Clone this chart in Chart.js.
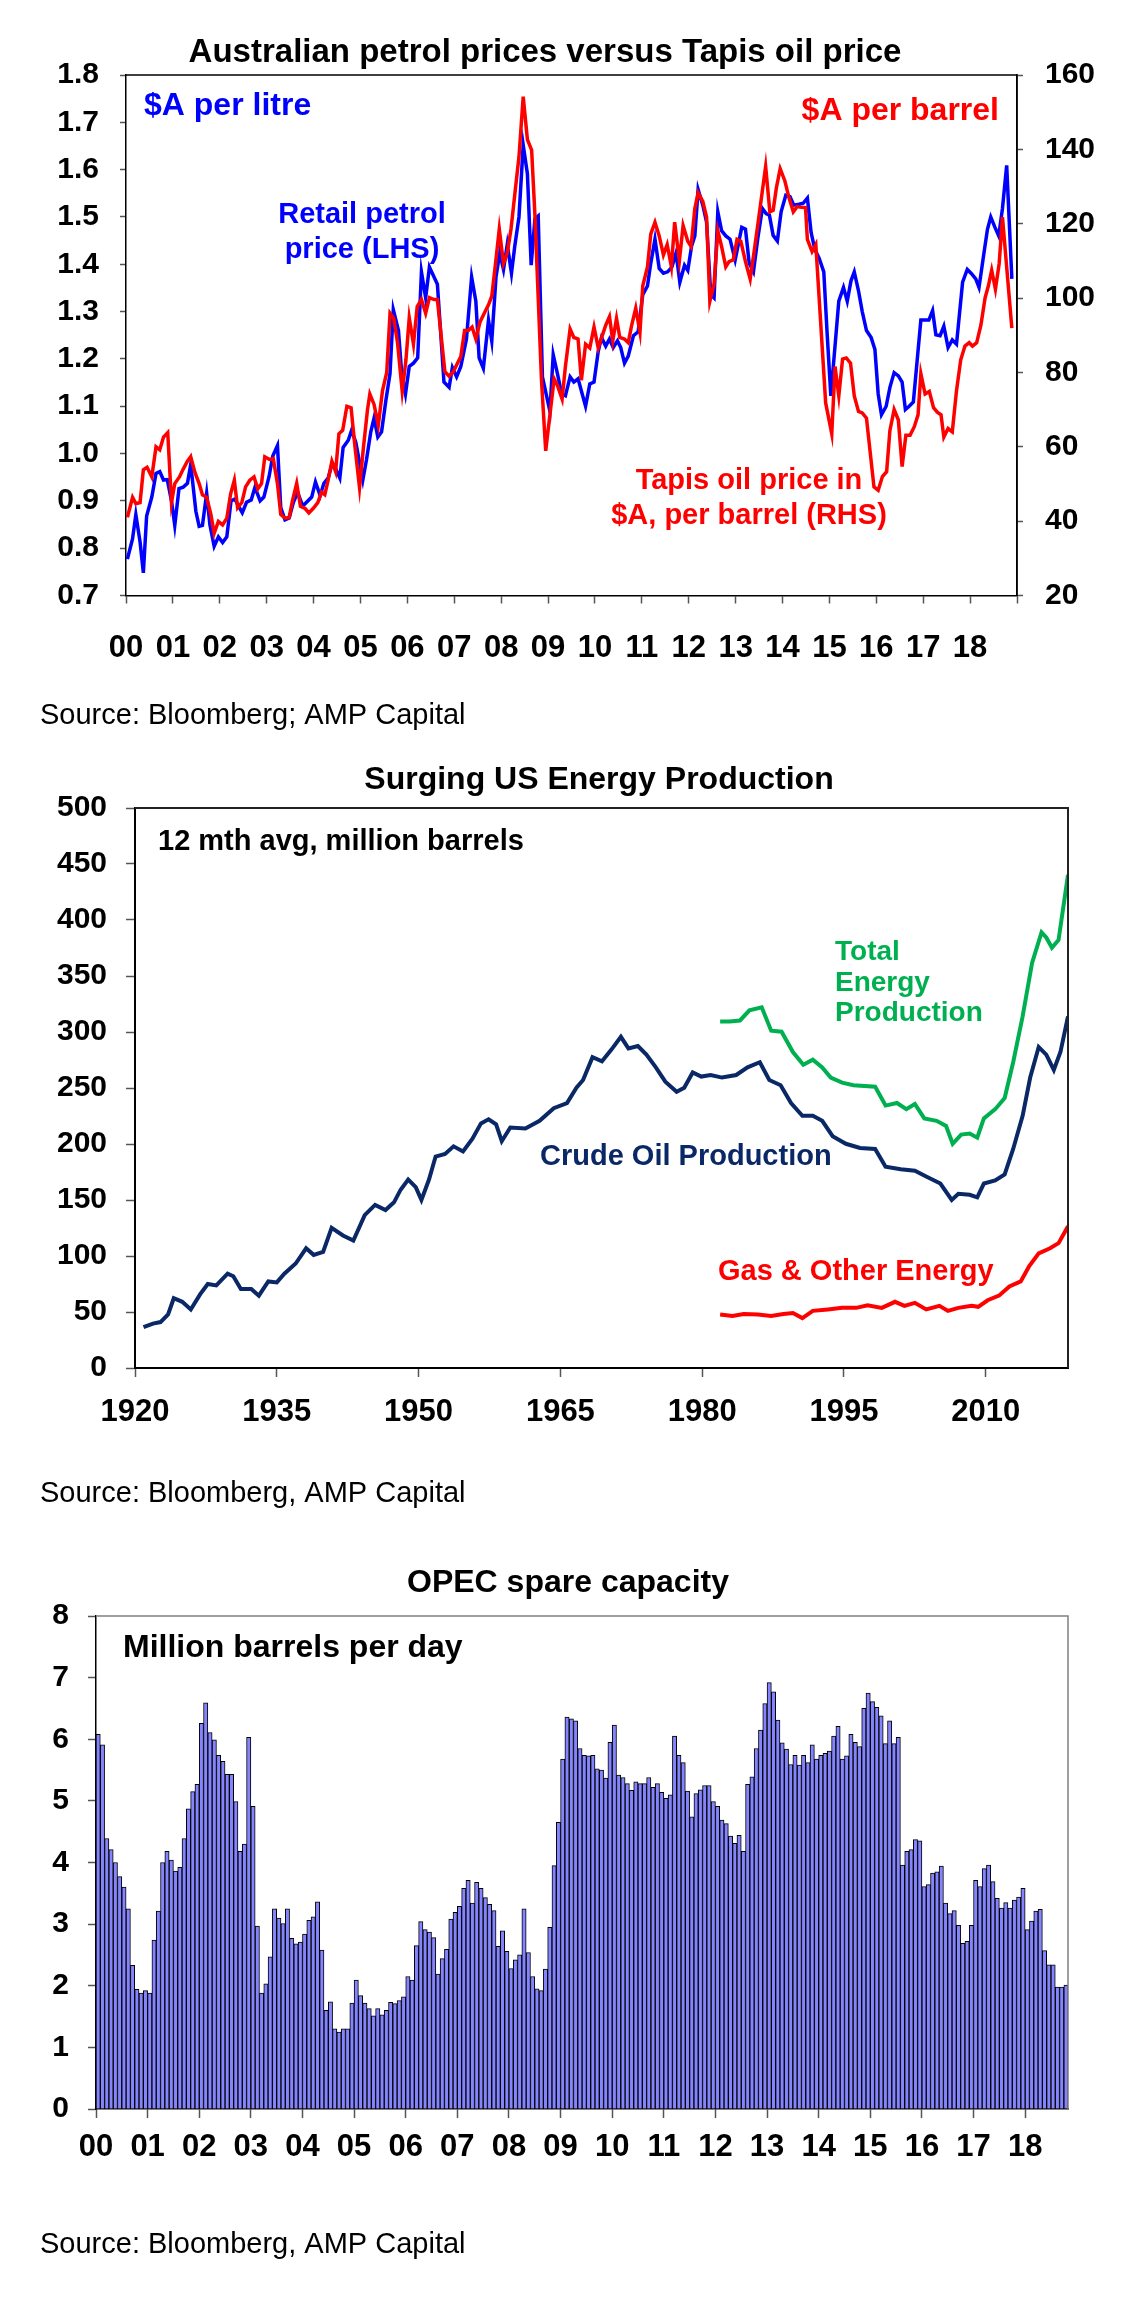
<!DOCTYPE html>
<html>
<head>
<meta charset="utf-8">
<script src="https://cdn.jsdelivr.net/npm/chart.js@4.4.1/dist/chart.umd.min.js"></script>
<style>
  html, body { margin: 0; padding: 0; background: #fff; }
  canvas { display: block; }
</style>
</head>
<body>
<canvas id="petrolCanvas" width="1144" height="740"></canvas>
<canvas id="energyCanvas" width="1144" height="800"></canvas>
<canvas id="opecCanvas" width="1144" height="782"></canvas>
<script>
// tick labels shared by the two monthly charts
const yearLabels = ['00','01','02','03','04','05','06','07','08','09','10','11','12','13','14','15','16','17','18'];

// retail petrol price, $A per litre (LHS)
const petrolYear = [2000.03,2000.14,2000.21,2000.30,2000.37,2000.44,2000.55,2000.64,2000.72,2000.80,2000.88,2000.97,
  2001.04,2001.13,2001.22,2001.31,2001.38,2001.49,2001.56,2001.63,2001.72,2001.79,2001.88,2001.97,
  2002.06,2002.15,2002.24,2002.32,2002.40,2002.48,2002.57,2002.67,2002.75,2002.86,2002.94,
  2003.05,2003.13,2003.23,2003.30,2003.39,2003.48,2003.57,2003.66,2003.77,2003.85,2003.96,
  2004.04,2004.14,2004.22,2004.31,2004.40,2004.48,2004.56,2004.63,2004.74,2004.81,2004.90,
  2005.05,2005.13,2005.22,2005.29,2005.37,2005.45,2005.54,2005.63,2005.70,2005.81,2005.88,2005.96,
  2006.04,2006.13,2006.22,2006.30,2006.39,2006.47,2006.64,2006.71,2006.78,2006.89,2006.96,
  2007.05,2007.14,2007.26,2007.37,2007.46,2007.53,2007.62,2007.73,2007.80,2007.89,2007.97,
  2008.05,2008.13,2008.22,2008.29,2008.38,2008.47,2008.56,2008.64,2008.72,2008.79,2008.88,
  2009.04,2009.11,2009.20,2009.29,2009.37,2009.47,2009.55,2009.64,2009.80,2009.89,2009.98,
  2010.07,2010.14,2010.23,2010.31,2010.39,2010.48,2010.55,2010.63,2010.71,2010.82,2010.92,
  2011.02,2011.12,2011.19,2011.28,2011.37,2011.46,2011.55,2011.64,2011.73,2011.81,2011.91,2011.98,
  2012.06,2012.13,2012.20,2012.30,2012.38,2012.47,2012.54,2012.62,2012.70,2012.79,2012.88,2012.99,
  2013.13,2013.21,2013.29,2013.38,2013.47,2013.57,2013.65,2013.72,2013.80,2013.89,2013.97,
  2014.07,2014.16,2014.24,2014.35,2014.44,2014.53,2014.61,2014.69,2014.78,2014.88,2014.95,
  2015.03,2015.20,2015.30,2015.38,2015.46,2015.53,2015.62,2015.70,2015.79,2015.89,2015.97,
  2016.04,2016.11,2016.21,2016.29,2016.38,2016.47,2016.55,2016.62,2016.70,2016.79,2016.95,
  2017.04,2017.12,2017.20,2017.27,2017.36,2017.44,2017.53,2017.62,2017.71,2017.84,2017.94,
  2018.03,2018.12,2018.19,2018.28,2018.37,2018.44,2018.53,2018.61,2018.69,2018.78,2018.89];
const petrolPrice = [0.777,0.820,0.871,0.813,0.748,0.868,0.908,0.958,0.962,0.944,0.945,0.900,
  0.848,0.926,0.929,0.937,0.977,0.878,0.846,0.848,0.916,0.849,0.804,0.824,
  0.812,0.824,0.900,0.904,0.889,0.875,0.897,0.902,0.929,0.900,0.908,
  0.951,0.995,1.017,0.886,0.860,0.864,0.897,0.918,0.889,0.897,0.908,
  0.940,0.911,0.937,0.948,0.980,0.966,0.948,1.013,1.028,1.049,1.024,
  0.944,0.988,1.046,1.075,1.035,1.046,1.111,1.169,1.304,1.260,1.169,1.126,
  1.184,1.191,1.202,1.384,1.329,1.394,1.358,1.256,1.151,1.140,1.182,
  1.162,1.184,1.242,1.373,1.322,1.202,1.180,1.282,1.238,1.373,1.424,
  1.389,1.442,1.381,1.438,1.500,1.652,1.591,1.398,1.496,1.502,1.162,
  1.089,1.209,1.169,1.126,1.122,1.162,1.151,1.158,1.100,1.147,1.151,
  1.216,1.245,1.227,1.242,1.224,1.238,1.224,1.191,1.206,1.249,1.257,
  1.336,1.354,1.402,1.453,1.391,1.381,1.384,1.394,1.424,1.362,1.398,1.387,
  1.438,1.460,1.558,1.525,1.489,1.336,1.329,1.511,1.471,1.460,1.453,1.409,
  1.478,1.474,1.402,1.384,1.453,1.518,1.507,1.504,1.461,1.449,1.511,
  1.546,1.543,1.525,1.527,1.529,1.540,1.467,1.431,1.413,1.384,1.256,
  1.122,1.322,1.351,1.322,1.365,1.384,1.344,1.300,1.260,1.245,1.220,
  1.126,1.082,1.100,1.140,1.171,1.164,1.151,1.093,1.100,1.109,1.282,
  1.282,1.282,1.302,1.251,1.249,1.269,1.224,1.240,1.231,1.362,1.389,
  1.380,1.369,1.351,1.413,1.474,1.500,1.478,1.460,1.518,1.609,1.369];

// Tapis oil price, $A per barrel (RHS)
const tapisYear = [2000.03,2000.14,2000.21,2000.30,2000.37,2000.45,2000.55,2000.64,2000.72,2000.80,2000.89,2000.97,
  2001.04,2001.14,2001.22,2001.31,2001.38,2001.47,2001.56,2001.63,2001.72,2001.81,2001.88,2001.97,
  2002.06,2002.15,2002.23,2002.31,2002.38,2002.47,2002.55,2002.64,2002.73,2002.81,2002.89,2002.96,
  2003.06,2003.14,2003.23,2003.30,2003.39,2003.48,2003.55,2003.64,2003.72,2003.82,2003.90,2003.99,
  2004.09,2004.17,2004.24,2004.31,2004.39,2004.47,2004.54,2004.62,2004.71,2004.80,2004.88,2004.98,
  2005.06,2005.15,2005.20,2005.29,2005.38,2005.47,2005.56,2005.63,2005.71,2005.79,2005.89,2005.97,
  2006.04,2006.13,2006.21,2006.30,2006.39,2006.47,2006.57,2006.64,2006.80,2006.89,2006.98,
  2007.05,2007.14,2007.22,2007.30,2007.38,2007.46,2007.55,2007.64,2007.73,2007.80,2007.88,2007.96,
  2008.05,2008.13,2008.21,2008.29,2008.38,2008.47,2008.56,2008.65,2008.72,2008.86,2008.95,
  2009.04,2009.13,2009.20,2009.30,2009.37,2009.47,2009.55,2009.64,2009.71,2009.80,2009.89,2009.98,
  2010.07,2010.23,2010.31,2010.38,2010.46,2010.53,2010.63,2010.71,2010.78,2010.87,2010.96,
  2011.02,2011.12,2011.19,2011.28,2011.37,2011.46,2011.54,2011.63,2011.70,2011.80,2011.88,2011.98,
  2012.05,2012.13,2012.20,2012.30,2012.38,2012.45,2012.54,2012.62,2012.70,2012.79,2012.86,2012.95,
  2013.03,2013.11,2013.21,2013.31,2013.39,2013.48,2013.64,2013.73,2013.80,2013.87,2013.95,
  2014.05,2014.14,2014.23,2014.31,2014.40,2014.49,2014.53,2014.63,2014.71,2014.92,
  2015.05,2015.12,2015.20,2015.28,2015.36,2015.45,2015.53,2015.62,2015.70,2015.79,2015.95,
  2016.04,2016.13,2016.22,2016.29,2016.38,2016.47,2016.55,2016.63,2016.72,2016.81,2016.89,2016.95,
  2017.04,2017.13,2017.22,2017.30,2017.38,2017.44,2017.53,2017.62,2017.71,2017.80,2017.89,2017.98,
  2018.05,2018.14,2018.23,2018.32,2018.39,2018.46,2018.54,2018.62,2018.69,2018.89];
const tapisPrice = [41.0,46.4,44.7,45.0,53.8,54.5,51.9,60.0,59.2,62.6,63.8,45.0,
  50.1,51.9,54.0,56.1,57.3,53.1,50.1,47.1,46.4,41.8,36.7,39.9,
  39.0,40.8,47.3,51.0,43.6,45.0,49.2,51.0,51.9,48.7,50.1,57.3,
  56.6,56.8,50.1,41.8,40.8,41.0,45.5,50.2,44.0,43.4,42.2,43.4,
  45.0,47.8,47.1,51.0,56.1,53.3,63.5,64.4,70.9,70.5,60.3,49.0,
  59.4,70.0,74.2,71.4,65.8,75.1,80.0,95.9,94.5,88.0,74.9,83.4,
  94.7,87.6,97.7,99.6,95.9,100.1,99.6,99.6,80.2,79.0,80.2,
  82.0,84.3,91.3,91.3,92.2,89.0,93.6,95.9,98.2,100.5,109.3,118.6,
  109.3,112.1,118.6,127.8,138.0,154.2,142.6,139.8,122.3,77.9,58.9,
  68.6,78.3,76.5,72.8,81.6,91.7,89.4,89.0,77.9,87.6,86.6,92.2,
  86.6,92.7,95.0,88.5,94.5,89.4,89.0,88.0,92.5,97.3,90.8,
  103.3,108.4,117.2,120.4,116.7,111.6,114.4,108.4,120.4,110.0,119.5,115.3,
  113.9,124.1,128.3,126.0,121.8,99.1,103.8,118.1,113.9,108.4,109.8,110.3,
  115.8,115.3,109.8,105.1,112.1,120.4,135.4,123.2,123.6,129.7,134.8,
  131.5,126.9,123.2,124.6,124.4,124.3,115.8,112.5,114.4,71.8,
  63.5,81.6,73.7,83.6,83.9,82.5,73.7,69.5,69.1,67.7,49.2,
  48.3,52.0,53.3,64.4,70.0,67.2,54.7,63.1,63.1,65.4,68.6,79.7,
  74.2,74.9,70.5,69.3,68.6,62.6,64.9,64.0,75.1,83.4,87.1,88.0,
  87.1,88.0,92.7,100.1,103.3,107.5,102.4,109.3,121.8,91.9];

// US production, 12 mth avg, million barrels
const crudeYear = [1920.9,1921.9,1922.7,1923.5,1924.1,1925.0,1925.9,1926.9,1927.7,1928.6,1929.8,1930.4,1931.2,1932.3,1933.1,
  1934.1,1935.0,1935.8,1937.0,1938.1,1938.9,1939.9,1940.8,1942.0,1943.1,1944.3,1945.4,1946.5,1947.4,1948.1,
  1948.9,1949.7,1950.3,1951.1,1951.8,1952.8,1953.7,1954.7,1955.7,1956.6,1957.4,1958.2,1958.8,1959.7,1961.3,
  1962.8,1964.3,1965.7,1966.7,1967.4,1968.4,1969.4,1970.4,1971.4,1972.2,1973.2,1974.1,1975.1,1976.1,1977.3,
  1978.1,1979.0,1979.9,1980.9,1982.1,1983.6,1984.8,1986.1,1987.1,1988.3,1989.4,1990.6,1991.7,1992.7,1993.8,
  1995.2,1996.7,1998.3,1999.4,2001.0,2002.5,2003.8,2005.2,2006.4,2007.1,2008.3,2009.1,2009.8,2011.0,2012.0,
  2012.9,2013.9,2014.7,2015.6,2016.4,2017.2,2017.9,2018.7];
const crudeOutput = [36.4,39.6,41,47.8,62.3,59.1,52.3,66,75,73.7,84.2,81.9,70.5,70.5,64.6,
  77.3,76.4,84.2,93.3,106.9,101,103.7,125.1,118.3,113.7,136.5,145.6,141,147.9,159.2,
  168.3,161.5,150.1,168.3,188.8,191.1,197.9,193.4,204.7,218.4,222,217.5,202.5,214.7,213.8,
  220.7,232,236.6,250.2,257.1,277.5,273.9,284.3,295.7,285.3,287.5,279.8,268.4,255.7,246.6,
  250.2,263.9,260.2,261.6,259.3,261.6,268.4,273,257.1,252.5,236.6,225.2,225.2,220.7,207,
  200.2,196.5,195.6,179.7,177.4,176.1,170.6,164.7,150.1,155.6,154.7,152.4,164.7,167.4,172.9,
  195.6,225.2,259.3,286.6,279.8,266.2,282.1,313.9];
const totalYear = [1981.9,1982.9,1984.0,1985.0,1986.3,1987.3,1988.4,1989.6,1990.7,1991.7,1992.7,1993.6,1994.8,1996.0,1998.3,
  1999.4,2000.6,2001.6,2002.5,2003.5,2004.8,2005.8,2006.5,2007.4,2008.3,2009.1,2009.8,2011.0,2012.0,2012.9,
  2013.9,2014.9,2015.9,2016.4,2017.0,2017.7,2018.7];
const totalOutput = [309.4,309.4,310.3,319.4,322.1,301.2,300.3,282.1,270.7,275.3,268.4,259.3,254.8,252.5,251.1,
  234.3,236.6,231.1,235.7,222.9,220.7,216.1,200.2,208.4,209.3,205.6,222.9,231.1,241.1,273,
  313.9,361.7,389,384.4,375.3,382.2,440.4];
const gasYear = [1981.9,1983.2,1984.4,1985.9,1987.3,1988.6,1989.6,1990.6,1991.7,1993.3,1994.8,1996.3,1997.5,1999.0,2000.4,
  2001.4,2002.5,2003.7,2005.1,2006.0,2007.1,2008.5,2009.2,2010.2,2011.4,2012.5,2013.7,2014.6,2015.6,2016.8,
  2017.7,2018.7];
const gasOutput = [47.8,46.4,48.2,47.8,46.4,48.2,49.1,44.6,51,52.3,53.7,53.7,56,53.7,59.1,
  55.5,58.2,52.3,55.5,51,53.7,55.5,54.6,60.5,64.6,72.8,77.3,91,102.4,106.9,
  111.5,126.5];
const energyTicks = [1920, 1935, 1950, 1965, 1980, 1995, 2010];

// OPEC spare capacity, million barrels per day, monthly from Jan 2000
const spareStart = 2000;
const spareCapacity = [
  6.08,5.91,4.39,4.21,4.00,3.77,3.60,3.25,2.33,1.94,1.88,1.92,
  1.88,2.74,3.21,4.00,4.18,4.04,3.86,3.92,4.39,4.87,5.15,5.27,
  6.26,6.59,6.11,5.99,5.74,5.64,5.43,5.43,4.99,4.18,4.30,6.03,
  4.91,2.97,1.88,2.03,2.47,3.25,3.10,3.01,3.25,2.77,2.68,2.71,
  2.84,3.06,3.12,3.36,2.58,1.60,1.74,1.30,1.25,1.30,1.30,1.72,
  2.09,1.84,1.72,1.63,1.51,1.63,1.53,1.60,1.73,1.71,1.76,1.82,
  2.15,2.09,2.65,3.04,2.91,2.87,2.78,2.19,2.44,2.59,3.08,3.19,
  3.29,3.58,3.71,3.34,3.68,3.58,3.43,3.32,3.22,2.64,2.89,2.56,
  2.28,2.42,2.50,3.25,2.54,2.15,1.95,1.92,2.27,2.95,3.95,4.65,
  5.68,6.36,6.33,6.30,5.85,5.74,5.73,5.74,5.52,5.50,5.37,5.95,
  6.23,5.42,5.38,5.28,5.17,5.31,5.28,5.28,5.38,5.22,5.28,5.14,
  5.04,5.10,6.05,5.74,5.62,5.16,4.74,5.12,5.18,5.25,5.25,4.99,
  4.91,4.69,4.63,4.43,4.31,4.44,4.18,5.27,5.39,5.85,6.15,6.58,
  6.92,6.77,6.31,5.94,5.84,5.59,5.74,5.58,5.74,5.62,5.91,5.68,
  5.74,5.77,5.81,6.05,6.21,5.68,5.73,6.08,5.95,5.88,6.50,6.75,
  6.61,6.52,6.38,5.93,6.30,5.93,6.03,3.96,4.18,4.21,4.37,4.35,
  3.61,3.64,3.83,3.85,3.94,3.34,3.17,3.22,2.98,2.69,2.72,2.98,
  3.71,3.61,3.90,3.96,3.69,3.42,3.26,3.35,3.26,3.39,3.44,3.58,
  2.91,3.05,3.21,3.24,2.57,2.34,2.34,1.98,1.98,2.01];

const FONT = '"Liberation Sans", Arial, Helvetica, sans-serif';
Chart.defaults.font.family = FONT;
Chart.defaults.color = '#000';
Chart.defaults.animation = false;

function toPoints(xs, ys) {
    return xs.map((x, i) => ({x: x, y: ys[i]}));
}

function yearTicks(scale) {
    scale.ticks = yearLabels.map((l, i) => ({value: 2000 + i}));
}

// free text (titles, notes, source) drawn onto the canvas
function textPlugin(items) {
    return {
        id: 'texts',
        afterDraw(chart) {
            const ctx = chart.ctx;
            items.forEach(t => {
                ctx.save();
                ctx.font = (t.weight || 'bold') + ' ' + t.size + 'px ' + FONT;
                ctx.fillStyle = t.color || '#000';
                ctx.textAlign = t.align || 'left';
                ctx.textBaseline = 'alphabetic';
                ctx.fillText(t.text, t.x, t.y + t.size * 0.36);
                ctx.restore();
            });
        }
    };
}

// top and right edge of the plot box
function boxPlugin(color, width) {
    return {
        id: 'box',
        afterDatasetsDraw(chart) {
            const a = chart.chartArea;
            const ctx = chart.ctx;
            ctx.save();
            ctx.strokeStyle = color;
            ctx.lineWidth = width;
            ctx.beginPath();
            ctx.moveTo(a.left, a.top);
            ctx.lineTo(a.right, a.top);
            ctx.lineTo(a.right, a.bottom);
            ctx.stroke();
            ctx.restore();
        }
    };
}

function axisGrid(len) {
    return {drawOnChartArea: false, drawTicks: true, tickLength: len, tickColor: '#555', tickWidth: 1.5, offset: false};
}

// ---------- chart 1: petrol vs Tapis ----------
new Chart(document.getElementById('petrolCanvas'), {
    type: 'line',
    data: {
        datasets: [{
                label: 'Retail petrol price (LHS)',
                data: toPoints(petrolYear, petrolPrice),
                yAxisID: 'y',
                borderColor: '#0000ff',
                borderWidth: 3.5,
                pointRadius: 0,
                order: 2
            }, {
                label: 'Tapis oil price in $A, per barrel (RHS)',
                data: toPoints(tapisYear, tapisPrice),
                yAxisID: 'y2',
                borderColor: '#ff0000',
                borderWidth: 3.5,
                pointRadius: 0,
                order: 1
            }]
    },
    options: {
        responsive: false,
        devicePixelRatio: 1,
        layout: {padding: {top: 75, left: 0, right: 0, bottom: 0}},
        plugins: {legend: {display: false}, tooltip: {enabled: false}},
        scales: {
            x: {
                type: 'linear', min: 2000, max: 2019,
                afterBuildTicks: s => { s.ticks = yearLabels.map((l, i) => ({value: 2000 + i})).concat([{value: 2019}]); },
                ticks: {autoSkip: false, maxRotation: 0, padding: 26,
                    font: {size: 31, weight: 'bold'},
                    callback: v => yearLabels[v - 2000] || ''},
                grid: axisGrid(8),
                border: {color: '#000', width: 1.5},
                afterFit: s => { s.height = 740 - 595.5; }
            },
            y: {
                position: 'left', min: 0.7, max: 1.8,
                ticks: {stepSize: 0.1, padding: 21, font: {size: 30, weight: 'bold'},
                    callback: v => Number(v).toFixed(1)},
                grid: axisGrid(6),
                border: {color: '#000', width: 1.5},
                afterFit: s => { s.width = 126; }
            },
            y2: {
                position: 'right', min: 20, max: 160,
                ticks: {stepSize: 20, padding: 22, font: {size: 30, weight: 'bold'}},
                grid: axisGrid(6),
                border: {color: '#000', width: 1.5},
                afterFit: s => { s.width = 1144 - 1017; }
            }
        }
    },
    plugins: [boxPlugin('#000', 1.5), textPlugin([
        {text: 'Australian petrol prices versus Tapis oil price', x: 545, y: 50, size: 33, align: 'center'},
        {text: '$A per litre', x: 144, y: 103, size: 32, color: '#0000ff'},
        {text: '$A per barrel', x: 999, y: 108.5, size: 32, color: '#ff0000', align: 'right'},
        {text: 'Retail petrol', x: 362, y: 213, size: 29, color: '#0000ff', align: 'center'},
        {text: 'price (LHS)', x: 362, y: 248, size: 29, color: '#0000ff', align: 'center'},
        {text: 'Tapis oil price in', x: 749, y: 479, size: 29, color: '#ff0000', align: 'center'},
        {text: '$A, per barrel (RHS)', x: 749, y: 514, size: 29, color: '#ff0000', align: 'center'},
        {text: 'Source: Bloomberg; AMP Capital', x: 40, y: 714, size: 29, weight: 'normal'}
    ])]
});

// ---------- chart 2: US energy production ----------
new Chart(document.getElementById('energyCanvas'), {
    type: 'line',
    data: {
        datasets: [{
                label: 'Total Energy Production',
                data: toPoints(totalYear, totalOutput),
                borderColor: '#00b050',
                borderWidth: 4,
                pointRadius: 0
            }, {
                label: 'Crude Oil Production',
                data: toPoints(crudeYear, crudeOutput),
                borderColor: '#0a2866',
                borderWidth: 4,
                pointRadius: 0
            }, {
                label: 'Gas & Other Energy',
                data: toPoints(gasYear, gasOutput),
                borderColor: '#ff0000',
                borderWidth: 4,
                pointRadius: 0
            }]
    },
    options: {
        responsive: false,
        devicePixelRatio: 1,
        layout: {padding: {top: 68, left: 0, right: 1144 - 1068, bottom: 0}},
        plugins: {legend: {display: false}, tooltip: {enabled: false}},
        scales: {
            x: {
                type: 'linear', min: 1920, max: 2018.7,
                afterBuildTicks: s => { s.ticks = energyTicks.map(v => ({value: v})); },
                ticks: {autoSkip: false, maxRotation: 0, padding: 17, font: {size: 31, weight: 'bold'},
                    callback: v => String(v)},
                grid: axisGrid(9),
                border: {color: '#000', width: 2},
                afterFit: s => { s.height = 800 - 628; }
            },
            y: {
                min: 0, max: 500,
                ticks: {stepSize: 50, padding: 19, font: {size: 30, weight: 'bold'}},
                grid: axisGrid(9),
                border: {color: '#000', width: 2},
                afterFit: s => { s.width = 135; }
            }
        }
    },
    plugins: [boxPlugin('#222', 2), textPlugin([
        {text: 'Surging US Energy Production', x: 599, y: 37, size: 32, align: 'center'},
        {text: '12 mth avg, million barrels', x: 158, y: 100, size: 29},
        {text: 'Total', x: 835, y: 210, size: 28, color: '#00b050'},
        {text: 'Energy', x: 835, y: 241, size: 28, color: '#00b050'},
        {text: 'Production', x: 835, y: 271, size: 28, color: '#00b050'},
        {text: 'Crude Oil Production', x: 540, y: 415, size: 29, color: '#0a2866'},
        {text: 'Gas & Other Energy', x: 718, y: 530, size: 29, color: '#ff0000'},
        {text: 'Source: Bloomberg, AMP Capital', x: 40, y: 752, size: 29, weight: 'normal'}
    ])]
});

// ---------- chart 3: OPEC spare capacity ----------
new Chart(document.getElementById('opecCanvas'), {
    type: 'bar',
    data: {
        datasets: [{
                label: 'OPEC spare capacity',
                data: spareCapacity.map((v, i) => ({x: spareStart + (i + 0.5) / 12, y: v})),
                backgroundColor: '#8484ff',
                borderColor: '#000000',
                borderWidth: 1,
                barPercentage: 1,
                categoryPercentage: 1
            }]
    },
    options: {
        responsive: false,
        devicePixelRatio: 1,
        layout: {padding: {top: 76, left: 0, right: 1144 - 1068, bottom: 0}},
        plugins: {legend: {display: false}, tooltip: {enabled: false}},
        scales: {
            x: {
                type: 'linear', min: 2000, max: 2018.83, offset: false,
                afterBuildTicks: yearTicks,
                ticks: {autoSkip: false, maxRotation: 0, padding: 11,
                    font: {size: 31, weight: 'bold'},
                    callback: v => yearLabels[v - 2000] || ''},
                grid: axisGrid(9),
                border: {color: '#000', width: 1.5},
                afterFit: s => { s.height = 782 - 569; }
            },
            y: {
                min: 0, max: 8,
                ticks: {stepSize: 1, padding: 19, font: {size: 30, weight: 'bold'}},
                grid: axisGrid(8),
                border: {color: '#000', width: 1.5},
                afterFit: s => { s.width = 96; }
            }
        }
    },
    plugins: [boxPlugin('#808080', 1.5), textPlugin([
        {text: 'OPEC spare capacity', x: 568, y: 40, size: 32, align: 'center'},
        {text: 'Million barrels per day', x: 123, y: 105, size: 32},
        {text: 'Source: Bloomberg, AMP Capital', x: 40, y: 703, size: 29, weight: 'normal'}
    ])]
});
</script>
</body>
</html>
